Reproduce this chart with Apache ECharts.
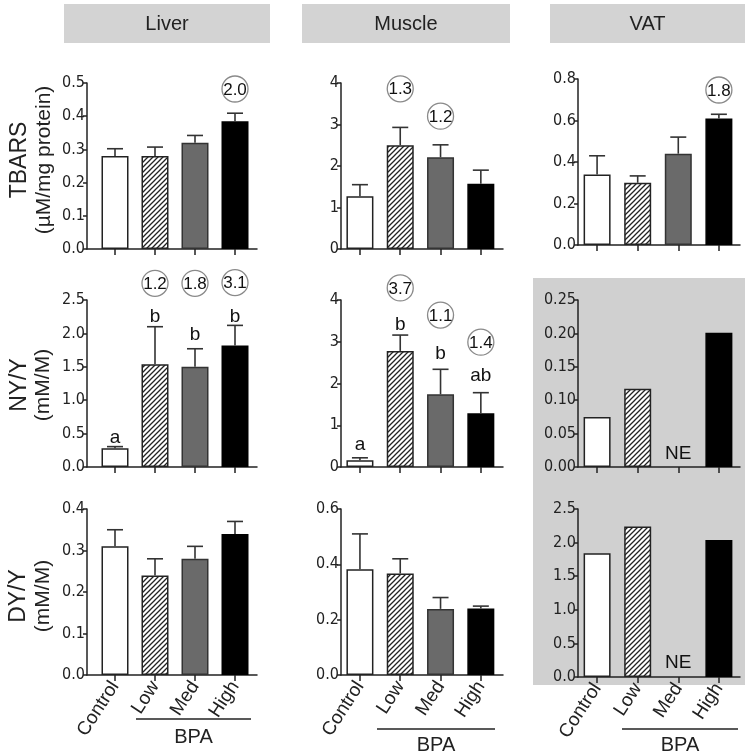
<!DOCTYPE html>
<html><head><meta charset="utf-8">
<script src="https://cdn.jsdelivr.net/npm/echarts@6/dist/echarts.min.js"></script>
<style>html,body{margin:0;padding:0;background:#fff}#c{width:750px;height:755px}</style>
</head><body><div id="c"></div>
<script>
// ---------- data ----------
const groups = ['Control', 'Low', 'Med', 'High'];
const tissues = ['Liver', 'Muscle', 'VAT'];
const measureNames = ['TBARS', 'NY/Y', 'DY/Y'];
const measureUnits = ['(µM/mg protein)', '(mM/M)', '(mM/M)'];

// TBARS
const liverTbars = [0.28, 0.28, 0.32, 0.385];
const liverTbarsSem = [0.022, 0.027, 0.022, 0.024];
const muscleTbars = [1.27, 2.5, 2.21, 1.57];
const muscleTbarsSem = [0.28, 0.43, 0.30, 0.33];
const vatTbars = [0.34, 0.30, 0.44, 0.61];
const vatTbarsSem = [0.09, 0.033, 0.08, 0.02];
// NY/Y
const liverNy = [0.28, 1.54, 1.50, 1.82];
const liverNySem = [0.025, 0.56, 0.27, 0.30];
const muscleNy = [0.16, 2.78, 1.74, 1.29];
const muscleNySem = [0.06, 0.38, 0.60, 0.49];
const vatNy = [0.075, 0.117, null, 0.201];
// DY/Y
const liverDy = [0.31, 0.24, 0.28, 0.34];
const liverDySem = [0.04, 0.04, 0.03, 0.03];
const muscleDy = [0.382, 0.367, 0.239, 0.24];
const muscleDySem = [0.128, 0.053, 0.041, 0.009];
const vatDy = [1.84, 2.24, null, 2.04];

// fold-change labels (circled) and their heights in data units
const liverTbarsFold = [null, null, null, '2.0'];
const liverTbarsFoldY = [null, null, null, 0.482];
const muscleTbarsFold = [null, '1.3', '1.2', null];
const muscleTbarsFoldY = [null, 3.86, 3.2, null];
const vatTbarsFold = [null, null, null, '1.8'];
const vatTbarsFoldY = [null, null, null, 0.747];
const liverNyFold = [null, '1.2', '1.8', '3.1'];
const liverNyFoldY = [null, 2.75, 2.75, 2.76];
const muscleNyFold = [null, '3.7', '1.1', '1.4'];
const muscleNyFoldY = [null, 4.29, 3.64, 2.99];

// significance letters / NE and their heights in data units
const liverNyLetters = ['a', 'b', 'b', 'b'];
const liverNyLettersY = [0.45, 2.27, 2.0, 2.27];
const muscleNyLetters = ['a', 'b', 'b', 'ab'];
const muscleNyLettersY = [0.56, 3.44, 2.74, 2.22];
const vatNyLetters = [null, null, 'NE', null];
const vatNyLettersY = [null, null, 0.022, null];
const vatDyLetters = [null, null, 'NE', null];
const vatDyLettersY = [null, null, 0.22, null];

// y-axis ticks: [max, interval, decimals]
const yTicks = [
  [[0.5, 0.1, 1], [4, 1, 0], [0.8, 0.2, 1]],
  [[2.5, 0.5, 1], [4, 1, 0], [0.25, 0.05, 2]],
  [[0.4, 0.1, 1], [0.6, 0.2, 1], [2.5, 0.5, 1]]
];

const panels = [
  [
    {mean: liverTbars, sem: liverTbarsSem, fold: liverTbarsFold, foldY: liverTbarsFoldY},
    {mean: muscleTbars, sem: muscleTbarsSem, fold: muscleTbarsFold, foldY: muscleTbarsFoldY},
    {mean: vatTbars, sem: vatTbarsSem, fold: vatTbarsFold, foldY: vatTbarsFoldY}
  ],
  [
    {mean: liverNy, sem: liverNySem, fold: liverNyFold, foldY: liverNyFoldY, letters: liverNyLetters, lettersY: liverNyLettersY},
    {mean: muscleNy, sem: muscleNySem, fold: muscleNyFold, foldY: muscleNyFoldY, letters: muscleNyLetters, lettersY: muscleNyLettersY},
    {mean: vatNy, letters: vatNyLetters, lettersY: vatNyLettersY}
  ],
  [
    {mean: liverDy, sem: liverDySem},
    {mean: muscleDy, sem: muscleDySem},
    {mean: vatDy, letters: vatDyLetters, lettersY: vatDyLettersY}
  ]
];

// ---------- layout ----------
const cols = [
  {left: 87, right: 257, min: -0.7, max: 3.55},
  {left: 341, right: 503, min: -0.47, max: 3.55},
  {left: 578, right: 740, min: -0.47, max: 3.52}
];
const rowsY = [
  [[83, 249], [83, 249], [79, 245]],
  [[300, 467], [300, 467], [300, 467]],
  [[509, 675], [509, 675], [509, 677]]
];
const NARROW = "'Liberation Sans Narrow','Arial Narrow','DejaVu Sans Condensed',sans-serif";
const SANS = "'Liberation Sans',Arial,sans-serif";
const INK = '#222';

function hatch() {
  const c = document.createElement('canvas');
  c.width = 5; c.height = 5;
  const g = c.getContext('2d');
  g.fillStyle = '#fff'; g.fillRect(0, 0, 5, 5);
  g.strokeStyle = '#222'; g.lineWidth = 1.3;
  g.beginPath();
  g.moveTo(0, 5); g.lineTo(5, 0);
  g.moveTo(-1, 1); g.lineTo(1, -1);
  g.moveTo(4, 6); g.lineTo(6, 4);
  g.stroke();
  return c;
}
const barStyles = [
  {color: '#ffffff', borderColor: INK, borderWidth: 1.5},
  {color: {image: hatch(), repeat: 'repeat'}, borderColor: INK, borderWidth: 1.5},
  {color: '#6a6a6a', borderColor: '#333', borderWidth: 1.5},
  {color: '#000000', borderColor: '#000', borderWidth: 1.5}
];

const grid = [], xAxis = [], yAxis = [], series = [];
let k = 0;
for (let r = 0; r < 3; r++) {
  for (let c = 0; c < 3; c++) {
    const col = cols[c], ry = rowsY[r][c], tk = yTicks[r][c], p = panels[r][c];
    grid.push({left: col.left, top: ry[0], width: col.right - col.left, height: ry[1] - ry[0]});
    xAxis.push({
      type: 'value', gridIndex: k, min: col.min, max: col.max,
      splitLine: {show: false},
      axisLine: {show: true, onZero: false, lineStyle: {color: INK, width: 1.5}},
      axisTick: {show: true, customValues: [0, 1, 2, 3], length: 6, lineStyle: {color: INK, width: 1.5}},
      axisLabel: {
        show: r === 2, customValues: [0, 1, 2, 3], rotate: 57, margin: 8,
        fontSize: 19, fontFamily: SANS, color: INK,
        formatter: v => groups[Math.round(v)]
      }
    });
    yAxis.push({
      type: 'value', gridIndex: k, min: 0, max: tk[0], interval: tk[1],
      splitLine: {show: false},
      axisLine: {show: true, onZero: false, lineStyle: {color: INK, width: 1.5}},
      axisTick: {show: true, length: 4, lineStyle: {color: INK, width: 1.5}},
      axisLabel: {margin: 2, fontSize: 16, fontFamily: NARROW, color: INK,
        formatter: v => v.toFixed(tk[2])}
    });
    // bars
    const barData = [];
    p.mean.forEach((v, i) => { if (v != null) barData.push({value: [i, v], itemStyle: barStyles[i]}); });
    series.push({type: 'bar', xAxisIndex: k, yAxisIndex: k, barWidth: 27, data: barData, z: 3, animation: false});
    // error bars
    if (p.sem) {
      const eData = [];
      p.mean.forEach((v, i) => { if (v != null) eData.push([i, v, p.sem[i]]); });
      series.push({
        type: 'custom', xAxisIndex: k, yAxisIndex: k, z: 4, animation: false, data: eData,
        renderItem: (params, api) => {
          const x = api.value(0), v = api.value(1), e = api.value(2);
          const p0 = api.coord([x, v]), p1 = api.coord([x, v + e]);
          const st = {stroke: '#333', lineWidth: 1.6};
          return {type: 'group', children: [
            {type: 'line', shape: {x1: p0[0], y1: p0[1], x2: p1[0], y2: p1[1]}, style: st},
            {type: 'line', shape: {x1: p1[0] - 8, y1: p1[1], x2: p1[0] + 8, y2: p1[1]}, style: st}
          ]};
        }
      });
    }
    // annotations
    const ann = [];
    if (p.fold) p.fold.forEach((t, i) => { if (t) ann.push({x: i, y: p.foldY[i], text: t, circle: true}); });
    if (p.letters) p.letters.forEach((t, i) => { if (t) ann.push({x: i, y: p.lettersY[i], text: t, circle: false}); });
    if (ann.length) {
      series.push({
        type: 'custom', xAxisIndex: k, yAxisIndex: k, z: 5, animation: false, clip: false,
        data: ann.map(a => [a.x, a.y]),
        renderItem: (params, api) => {
          const a = ann[params.dataIndex];
          const pt = api.coord([a.x, a.y]);
          const children = [];
          if (a.circle) children.push({type: 'circle', shape: {cx: pt[0], cy: pt[1], r: 13},
            style: {fill: 'rgba(255,255,255,0)', stroke: '#8a8a8a', lineWidth: 1.3}});
          children.push({type: 'text', style: {text: a.text, x: pt[0], y: pt[1] + 1, align: 'center', verticalAlign: 'middle',
            font: (a.circle ? '17px ' : '19px ') + SANS, fill: '#111'}});
          return {type: 'group', children};
        }
      });
    }
    k++;
  }
}

// ---------- decorations ----------
const graphic = [];
graphic.push({type: 'rect', z: -100, shape: {x: 533, y: 278, width: 212, height: 407}, style: {fill: '#d0d0d0'}});
const headerBoxes = [[64, 270], [302, 510], [550, 745]];
tissues.forEach((t, i) => {
  const b = headerBoxes[i];
  graphic.push({type: 'rect', shape: {x: b[0], y: 4, width: b[1] - b[0], height: 39}, style: {fill: '#d3d3d3'}});
  graphic.push({type: 'text', style: {text: t, x: (b[0] + b[1]) / 2, y: 24, align: 'center', verticalAlign: 'middle',
    font: '20px ' + SANS, fill: INK}});
});
const rowCenters = [[20, 44, 160], [20, 43, 385], [19, 43, 596]];
measureNames.forEach((m, i) => {
  const rc = rowCenters[i];
  graphic.push({type: 'text', x: rc[0], y: rc[2], rotation: Math.PI / 2,
    style: {text: m, x: 0, y: 0, align: 'center', verticalAlign: 'middle', font: '23px ' + SANS, fill: INK}});
  graphic.push({type: 'text', x: rc[1], y: rc[2], rotation: Math.PI / 2,
    style: {text: measureUnits[i], x: 0, y: 0, align: 'center', verticalAlign: 'middle', font: '21px ' + SANS, fill: INK}});
});
const bpaLines = [[136, 251, 719, 737], [377, 495, 729, 745], [622, 738, 729, 745]];
bpaLines.forEach(b => {
  graphic.push({type: 'line', shape: {x1: b[0], y1: b[2], x2: b[1], y2: b[2]}, style: {stroke: INK, lineWidth: 1.3}});
  graphic.push({type: 'text', style: {text: 'BPA', x: (b[0] + b[1]) / 2, y: b[3], align: 'center', verticalAlign: 'middle',
    font: '20px ' + SANS, fill: INK}});
});

const chart = echarts.init(document.getElementById('c'), null, {renderer: 'canvas'});
chart.setOption({animation: false, grid, xAxis, yAxis, series, graphic});
</script>
</body></html>
